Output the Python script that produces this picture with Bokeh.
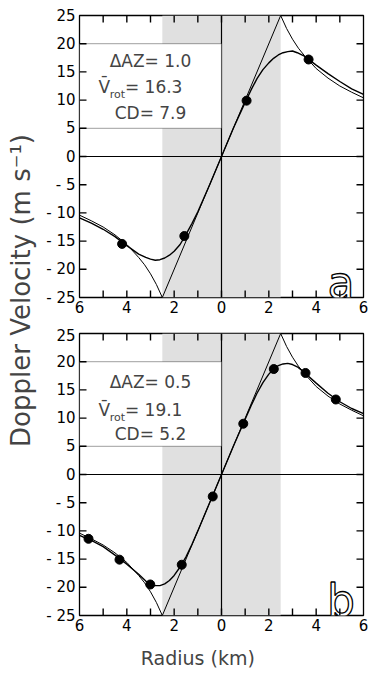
import math
from bokeh.plotting import figure
from bokeh.models import (Range1d, FixedTicker, LinearAxis, BoxAnnotation, Span, Label)
from bokeh.layouts import row, column
from bokeh.embed import file_html
from bokeh.resources import INLINE

# ---------------- data ----------------
X_MIN, X_MAX = -6, 6
Y_MIN, Y_MAX = -25, 25
CORE_RADIUS = 2.5
BOX_BOTTOM, BOX_TOP = 5, 20

rankine_r = [-6, -5.5, -5, -4.5, -4, -3.5, -3.25, -3, -2.75, -2.5, 0,
             2.5, 2.75, 3, 3.25, 3.5, 4, 4.5, 5, 5.5, 6]
rankine_v = [-10.4, -11.4, -12.5, -13.9, -15.6, -17.9, -19.2, -20.8, -22.7, -25, 0,
             25, 22.7, 20.8, 19.2, 17.9, 15.6, 13.9, 12.5, 11.4, 10.4]

smooth_r = [-6, -5.5, -5, -4.5, -4, -3.5, -3.2, -3, -2.8, -2.6, -2.4, -2.2, -2, -1.75,
            -1.5, -1.25, -1, -0.5, 0, 0.5, 1, 1.25, 1.5, 1.75, 2, 2.2, 2.4, 2.6, 2.8,
            3, 3.2, 3.5, 4, 4.5, 5, 5.5, 6]
smooth_a_v = [-10.9, -11.8, -12.9, -14.2, -15.8, -17.3, -17.9, -18.2, -18.4, -18.3, -18.0,
              -17.5, -16.8, -15.6, -13.8, -11.9, -9.8, -5.0, 0, 5.0, 9.6, 11.8, 13.8, 15.4,
              16.6, 17.4, 18.0, 18.4, 18.6, 18.7, 18.4, 17.8, 16.2, 14.7, 13.3, 12.0, 11.0]
smooth_b_v = [-10.8, -11.7, -12.8, -14.3, -15.9, -17.7, -18.9, -19.4, -19.7, -19.7, -19.4,
              -18.8, -17.9, -16.4, -14.6, -12.4, -10.0, -5.0, 0, 5.0, 9.8, 12.2, 14.4, 16.3,
              17.8, 18.7, 19.3, 19.6, 19.7, 19.5, 19.1, 18.1, 16.2, 14.4, 12.9, 11.7, 10.8]

pts_a_r = [-4.2, -1.57, 1.06, 3.68]
pts_a_v = [-15.5, -14.1, 9.9, 17.2]
pts_b_r = [-5.62, -4.31, -3.01, -1.68, -0.37, 0.92, 2.21, 3.55, 4.83]
pts_b_v = [-11.4, -15.1, -19.5, -16.0, -3.9, 9.0, 18.7, 18.0, 13.3]

panel_a_info = {"daz": "1.0", "vrot": "16.3", "cd": "7.9", "letter": "a"}
panel_b_info = {"daz": "0.5", "vrot": "19.1", "cd": "5.2", "letter": "b"}

x_ticks = [-6, -4, -2, 0, 2, 4, 6]
x_tick_labels = ["6", "4", "2", "0", "2", "4", "6"]
x_all_ticks = [-5, -4, -3, -2, -1, 0, 1, 2, 3, 4, 5]
y_ticks = [-25, -20, -15, -10, -5, 0, 5, 10, 15, 20, 25]
y_tick_labels = ["- 25", "- 20", "- 15", "- 10", "- 5", "0", "5", "10", "15", "20", "25"]
y_inner_ticks = [-20, -15, -10, -5, 0, 5, 10, 15, 20]

FONT = "DejaVu Sans"
FRAME_W, FRAME_H = 284, 282
TICK_PX = 7
TICK_W_PX = 1.4
LEFT_BORDER = 40


def label_axis(ax, ticks, labels, standoff):
    ax.ticker = FixedTicker(ticks=ticks, minor_ticks=[])
    ax.axis_line_color = None
    ax.major_tick_line_color = None
    ax.minor_tick_line_color = None
    ax.major_tick_out = 0
    ax.major_tick_in = 0
    ax.major_label_text_font = FONT
    ax.major_label_text_font_size = "15px"
    ax.major_label_text_color = "black"
    ax.major_label_standoff = standoff
    ax.major_label_overrides = {t: l for t, l in zip(ticks, labels)}


def add_ticks(p):
    """Inward tick marks on all four frame sides, drawn as thin filled boxes."""
    ux = (X_MAX - X_MIN) / FRAME_W   # data units per pixel (x)
    uy = (Y_MAX - Y_MIN) / FRAME_H   # data units per pixel (y)
    hx, hy = TICK_W_PX * ux / 2, TICK_W_PX * uy / 2
    style = dict(fill_color="black", fill_alpha=1, line_color=None, level="overlay")
    for t in x_all_ticks:
        p.add_layout(BoxAnnotation(left=t - hx, right=t + hx, top=Y_MAX,
                                   bottom=Y_MAX - TICK_PX * uy, **style))
        p.add_layout(BoxAnnotation(left=t - hx, right=t + hx, bottom=Y_MIN,
                                   top=Y_MIN + TICK_PX * uy, **style))
    for t in y_inner_ticks:
        p.add_layout(BoxAnnotation(left=X_MIN, right=X_MIN + TICK_PX * ux,
                                   bottom=t - hy, top=t + hy, **style))
        p.add_layout(BoxAnnotation(right=X_MAX, left=X_MAX - TICK_PX * ux,
                                   bottom=t - hy, top=t + hy, **style))


def make_panel(smooth_v, pr, pv, info, text_y, border_top, border_bottom):
    p = figure(frame_width=FRAME_W, frame_height=FRAME_H, x_range=Range1d(X_MIN, X_MAX),
               y_range=Range1d(Y_MIN, Y_MAX), output_backend="svg", toolbar_location=None,
               min_border_left=LEFT_BORDER, min_border_right=12, min_border_top=border_top,
               min_border_bottom=border_bottom, x_axis_location=None, y_axis_location=None,
               outline_line_color="black", outline_line_width=1.3,
               background_fill_color="white")
    p.grid.visible = False

    bottom = LinearAxis()
    label_axis(bottom, x_ticks, x_tick_labels, 3)
    left = LinearAxis()
    label_axis(left, y_ticks, y_tick_labels, 4)
    p.add_layout(bottom, "below")
    p.add_layout(left, "left")

    p.add_layout(BoxAnnotation(left=-CORE_RADIUS, right=CORE_RADIUS, fill_color="#e0e0e0",
                               fill_alpha=1, line_color=None, level="underlay"))
    p.add_layout(Span(location=0, dimension="width", line_color="black", line_width=1.2,
                      level="underlay"))
    p.add_layout(Span(location=0, dimension="height", line_color="black", line_width=1.2,
                      level="underlay"))

    p.line(rankine_r, rankine_v, line_color="black", line_width=1)
    p.line(smooth_r, smooth_v, line_color="black", line_width=1.4)
    p.scatter(pr, pv, size=9, color="black")

    p.add_layout(BoxAnnotation(right=0, bottom=BOX_BOTTOM, top=BOX_TOP, fill_color="white",
                               fill_alpha=1, line_color="black", line_width=1.2))
    add_ticks(p)

    y1, y2, y3 = text_y
    p.add_layout(Label(x=-3, y=y1, text="ΔAZ= " + info["daz"], text_font=FONT,
                       text_font_size="17px", text_align="center", text_baseline="middle"))
    p.add_layout(Label(x=-5.2, y=y2, text="V\u0304", text_font=FONT,
                       text_font_size="17px", text_align="left", text_baseline="middle"))
    p.add_layout(Label(x=-4.72, y=y2 - 1.4, text="rot", text_font=FONT,
                       text_font_size="11px", text_align="left", text_baseline="middle"))
    p.add_layout(Label(x=-4.08, y=y2, text="= " + info["vrot"], text_font=FONT,
                       text_font_size="17px", text_align="left", text_baseline="middle"))
    p.add_layout(Label(x=-3, y=y3, text="CD= " + info["cd"], text_font=FONT,
                       text_font_size="17px", text_align="center", text_baseline="middle"))

    p.add_layout(Label(x=5.05, y=-22.4, text=info["letter"], text_font=FONT,
                       text_font_size="44px", text_align="center", text_baseline="alphabetic",
                       text_color="white", text_outline_color="black"))
    return p


fa = make_panel(smooth_a_v, pts_a_r, pts_a_v, panel_a_info, (17.0, 12.4, 7.8), 15, 29)
fb = make_panel(smooth_b_v, pts_b_r, pts_b_v, panel_b_info, (16.4, 11.5, 7.1), 7, 29)

YW = 79 - LEFT_BORDER
XH = 682 - (15 + FRAME_H + 29) - (7 + FRAME_H + 29)
XW = FRAME_W + LEFT_BORDER + 12
xfig = figure(width=XW, height=XH, x_range=Range1d(0, XW), y_range=Range1d(0, XH),
              output_backend="svg", toolbar_location=None, min_border=0,
              x_axis_location=None, y_axis_location=None, outline_line_color=None)
xfig.grid.visible = False
xfig.add_layout(Label(x=140, y=XH - 13, text="Radius (km)", text_font=FONT,
                      text_font_size="19px", text_align="center", text_baseline="middle"))

H = 682
yfig = figure(width=YW, height=H, x_range=Range1d(0, YW), y_range=Range1d(0, H),
              output_backend="svg", toolbar_location=None, min_border=0,
              x_axis_location=None, y_axis_location=None, outline_line_color=None)
yfig.grid.visible = False
yfig.add_layout(Label(x=20, y=H - 290, text="Doppler Velocity (m s\u207b\u00b9)",
                      text_font=FONT, text_font_size="26px", angle=math.pi / 2,
                      text_align="center", text_baseline="middle"))

layout = row(yfig, column(fa, fb, xfig))
open("out.html", "w").write(file_html(layout, INLINE))
